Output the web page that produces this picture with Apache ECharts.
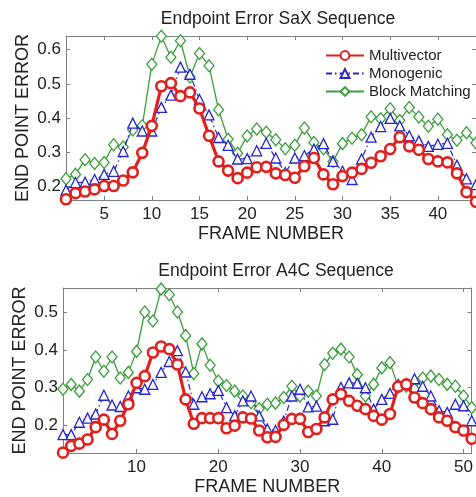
<!DOCTYPE html>
<html>
<head>
<meta charset="utf-8">
<script src="https://cdn.jsdelivr.net/npm/echarts@6/dist/echarts.min.js"></script>
<style>
html,body{margin:0;padding:0;background:#fff;}
#main{width:476px;height:497px;}
</style>
</head>
<body>
<div id="main"></div>
<script>
// SaX sequence, frames 1..44
var mvSax = [0.162,0.180,0.185,0.191,0.201,0.201,0.217,0.241,0.298,0.377,
             0.493,0.502,0.464,0.475,0.428,0.348,0.273,0.246,0.224,0.240,
             0.256,0.257,0.238,0.233,0.225,0.259,0.283,0.235,0.206,0.230,
             0.240,0.251,0.269,0.288,0.309,0.344,0.317,0.307,0.280,0.273,
             0.270,0.238,0.183,0.155]
var moSax = [0.189,0.211,0.212,0.220,0.235,0.244,0.302,0.385,0.362,0.362,
             0.431,0.467,0.549,0.528,0.454,0.409,0.343,0.320,0.280,0.281,
             0.304,0.326,0.283,0.240,0.283,0.290,0.309,0.325,0.273,0.244,
             0.220,0.280,0.344,0.375,0.399,0.377,0.348,0.333,0.317,0.323,
             0.326,0.262,0.222,0.205]
var bmSax = [0.222,0.235,0.278,0.267,0.270,0.322,0.315,0.365,0.377,0.557,
             0.639,0.578,0.626,0.520,0.589,0.553,0.424,0.338,0.297,0.347,
             0.368,0.358,0.336,0.310,0.320,0.371,0.328,0.310,0.273,0.325,
             0.341,0.351,0.404,0.398,0.427,0.393,0.431,0.403,0.376,0.396,
             0.351,0.335,0.357,0.327]
// A4C sequence, frames 1..51
var mvA4c = [0.126,0.144,0.150,0.161,0.194,0.214,0.176,0.211,0.255,0.312,
             0.330,0.393,0.409,0.402,0.361,0.268,0.203,0.218,0.218,0.218,
             0.191,0.198,0.220,0.217,0.185,0.167,0.168,0.200,0.216,0.216,
             0.181,0.189,0.220,0.268,0.282,0.264,0.251,0.242,0.224,0.214,
             0.229,0.302,0.308,0.273,0.258,0.242,0.220,0.211,0.194,0.185,
             0.163]
var moA4c = [0.174,0.174,0.207,0.218,0.229,0.279,0.253,0.249,0.277,0.299,
             0.295,0.308,0.340,0.369,0.398,0.341,0.255,0.275,0.283,0.292,
             0.246,0.224,0.264,0.277,0.224,0.189,0.185,0.210,0.277,0.295,
             0.248,0.250,0.211,0.215,0.300,0.312,0.311,0.299,0.242,0.268,
             0.284,0.308,0.310,0.323,0.303,0.277,0.238,0.233,0.255,0.251,
             0.211]
var bmA4c = [0.295,0.308,0.290,0.321,0.381,0.343,0.381,0.325,0.340,0.396,
             0.501,0.477,0.562,0.547,0.501,0.438,0.337,0.416,0.359,0.317,
             0.305,0.290,0.277,0.259,0.243,0.255,0.258,0.273,0.303,0.277,
             0.290,0.277,0.361,0.391,0.402,0.381,0.334,0.277,0.308,0.352,
             0.366,0.302,0.303,0.295,0.325,0.330,0.321,0.308,0.303,0.277,
             0.246]

var xTicksSax = [5,10,15,20,25,30,35,40]
var xTicksA4c = [10,20,30,40,50]
var yTicksSax = [0.2,0.3,0.4,0.5,0.6]
var yTicksA4c = [0.2,0.3,0.4,0.5]

var names = ['Multivector','Monogenic','Block Matching']
var RED = '#e0201c', BLUE = '#2424d0', GREEN = '#3c9e3c'
var FONT = 'Liberation Sans'

function pts(arr){
    return arr.map(function(v,i){ return [i+1, v] })
}

function xAx(idx, max, ticks, pos, show){
    return {
        type:'value', gridIndex:idx, min:1, max:max, position:pos,
        name: show ? 'FRAME NUMBER' : '', nameLocation:'middle', nameGap:25,
        nameTextStyle:{fontFamily:FONT, fontSize:18, color:'#222'},
        axisLine:{show:true, onZero:false, lineStyle:{color:'#808080', width:1}},
        axisTick:{show:true, inside:true, length:4, customValues:ticks, lineStyle:{color:'#808080'}},
        axisLabel:{show:show, customValues:ticks, margin:6, fontFamily:FONT, fontSize:17, color:'#222'},
        splitLine:{show:false}
    }
}
function yAx(idx, min, max, ticks, pos, show){
    return {
        type:'value', gridIndex:idx, min:min, max:max, position:pos,
        name: show ? 'END POINT ERROR' : '', nameLocation:'middle', nameGap:34,
        nameMoveOverlap:false,
        nameTextStyle:{fontFamily:FONT, fontSize:18, color:'#222'},
        axisLine:{show:true, onZero:false, lineStyle:{color:'#808080', width:1}},
        axisTick:{show:true, inside:true, length:4, customValues:ticks, lineStyle:{color:'#808080'}},
        axisLabel:{show:show, customValues:ticks, margin:5, fontFamily:FONT, fontSize:17, color:'#222',
            formatter:function(v){ return v.toFixed(1) }},
        splitLine:{show:false}
    }
}

function mk(name, data, xi, yi){
    var s = {name:name, type:'line', data:pts(data), xAxisIndex:xi, yAxisIndex:yi,
             animation:false, clip:false, showAllSymbol:true}
    if (name === 'Multivector'){
        s.symbol = 'circle'; s.symbolSize = 10; s.z = 4
        s.lineStyle = {color:RED, width:3.2}
        s.itemStyle = {color:'#fff', borderColor:RED, borderWidth:2.6}
    } else if (name === 'Monogenic'){
        s.symbol = 'triangle'; s.symbolSize = 10; s.z = 3
        s.lineStyle = {color:BLUE, width:1.2, type:[6,3,1.5,3]}
        s.itemStyle = {color:'#fff', borderColor:BLUE, borderWidth:1.3}
    } else {
        s.symbol = 'diamond'; s.symbolSize = [10,12]; s.z = 2
        s.lineStyle = {color:GREEN, width:1.3}
        s.itemStyle = {color:'#fff', borderColor:GREEN, borderWidth:1.3}
    }
    return s
}

var chart = echarts.init(document.getElementById('main'))
chart.setOption({
    backgroundColor:'#fff',
    title:[
        {text:'Endpoint Error SaX Sequence', left:273, top:5, textAlign:'center',
         textStyle:{fontFamily:FONT, fontSize:17.5, fontWeight:'normal', color:'#222'}},
        {text:'Endpoint Error A4C Sequence', left:271, top:257, textAlign:'center',
         textStyle:{fontFamily:FONT, fontSize:17.5, fontWeight:'normal', color:'#222'}}
    ],
    legend:{
        data:names, orient:'vertical', left:320, top:43, itemGap:3,
        itemWidth:38, itemHeight:11,
        textStyle:{fontFamily:FONT, fontSize:15, color:'#222'},
        selectedMode:false
    },
    grid:[
        {left:66, top:36, width:413, height:164},
        {left:63, top:288, width:416, height:166}
    ],
    xAxis:[
        xAx(0, 44, xTicksSax, 'bottom', true),
        xAx(1, 51, xTicksA4c, 'bottom', true),
        xAx(0, 44, xTicksSax, 'top', false),
        xAx(1, 51, xTicksA4c, 'top', false)
    ],
    yAxis:[
        yAx(0, 0.16, 0.64, yTicksSax, 'left', true),
        yAx(1, 0.125, 0.565, yTicksA4c, 'left', true),
        yAx(0, 0.16, 0.64, yTicksSax, 'right', false),
        yAx(1, 0.125, 0.565, yTicksA4c, 'right', false)
    ],
    series:[
        mk('Multivector', mvSax, 0, 0),
        mk('Monogenic', moSax, 0, 0),
        mk('Block Matching', bmSax, 0, 0),
        mk('Multivector', mvA4c, 1, 1),
        mk('Monogenic', moA4c, 1, 1),
        mk('Block Matching', bmA4c, 1, 1)
    ]
})
</script>
</body>
</html>
